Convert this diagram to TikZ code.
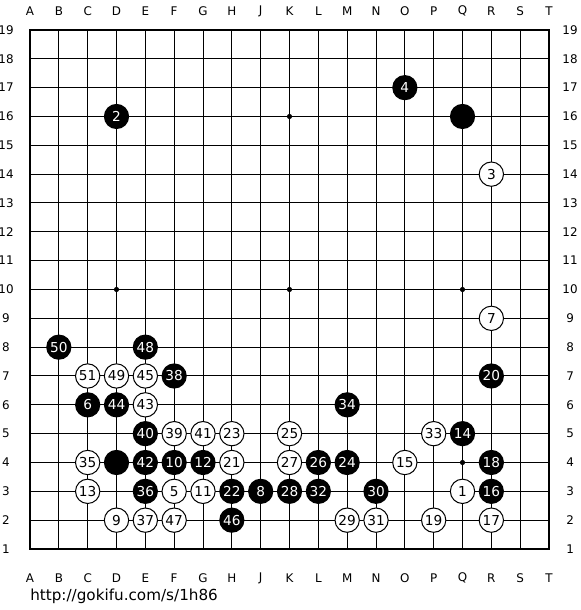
\documentclass[tikz,border=0pt]{standalone}
\usepackage{fontspec}
\setmainfont{DejaVu Sans}
\usetikzlibrary{positioning}

\begin{document}
\begin{tikzpicture}[x=0.8cm,y=0.8cm,
    stone/.style={circle,inner sep=0pt,font=\fontsize{10.8}{11}\selectfont},
    blackstone/.style={stone,fill=black,text=white,minimum size=0.7cm},
    whitestone/.style={stone,draw=black,line width=0.8pt,fill=white,text=black,minimum size=0.675cm},
    coordlabel/.style={font=\fontsize{9.4}{10}\selectfont,inner sep=0pt}]
    \useasboundingbox[fill=white] (-1.0405,-2.1156) rectangle (19.075,19.04);
    % board
    \foreach \k in {1,...,17}
    {
        \draw[line width=0.8pt] (\k,0)--(\k,18);
        \draw[line width=0.8pt] (0,\k)--(18,\k);
    }
    \draw[line width=2pt] (0,0) rectangle (18,18);
    \foreach \x in {3,9,15}
        \foreach \y in {3,9,15}
            \fill (\x,\y) circle[radius=0.09];
    % coordinates
    \foreach \c [count=\i from 0] in {A,B,C,D,E,F,G,H,J,K,L,M,N,O,P,Q,R,S,T}
    {
        \node[coordlabel] (top\c) at (\i,18.66) {\c};
        \node[coordlabel] (bot\c) at (\i,-1.006) {\c};
    }
    \foreach \r in {1,...,19}
    {
        \node[coordlabel] (left\r) at (-0.832,\r-1) {\r};
        \node[coordlabel] (right\r) at (18.73,\r-1) {\r};
    }
    % stones
    \node[blackstone] (bQ16) at (15,15) {};
    \node[blackstone] (bD4) at (3,3) {};
    \foreach \n/\c/\r in {2/3/16,4/13/17,6/2/6,8/8/3,10/5/4,12/6/4,14/15/5,16/16/3,
        18/16/4,20/16/7,22/7/3,24/11/4,26/10/4,28/9/3,30/12/3,32/10/3,34/11/6,
        36/4/3,38/5/7,40/4/5,42/4/4,44/3/6,46/7/2,48/4/8,50/1/8}
    {
        \node[blackstone] (m\n) at (\c,\r-1) {\n};
    }
    \foreach \n/\c/\r in {1/15/3,3/16/14,5/5/3,7/16/9,9/3/2,11/6/3,13/2/3,15/13/4,
        17/16/2,19/14/2,21/7/4,23/7/5,25/9/5,27/9/4,29/11/2,31/12/2,33/14/5,
        35/2/4,37/4/2,39/5/5,41/6/5,43/4/6,45/4/7,47/5/2,49/3/7,51/2/7}
    {
        \node[whitestone] (m\n) at (\c,\r-1) {\n};
    }
    \node[anchor=base west,inner sep=0pt,font=\fontsize{12}{12}\selectfont] (url) at (0,-1.77) {http://gokifu.com/s/1h86};
\end{tikzpicture}
\end{document}
